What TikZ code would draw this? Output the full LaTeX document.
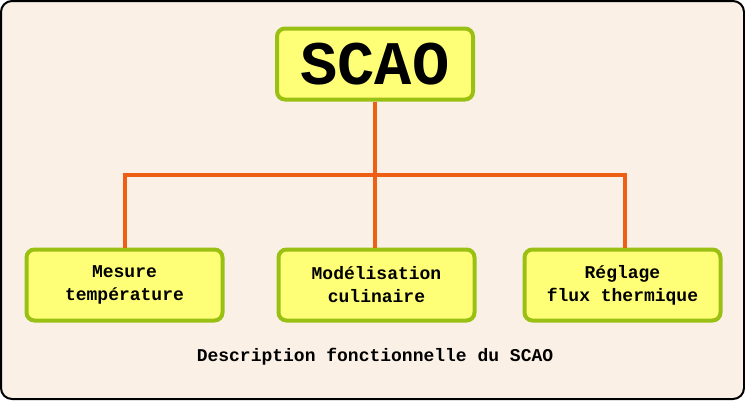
\documentclass[tikz,border=0pt]{standalone}
\usepackage{fontspec}
\setmonofont{Liberation Mono}
\definecolor{bgc}{HTML}{FAF0E6}
\definecolor{boxfill}{HTML}{FFFF77}
\definecolor{boxline}{HTML}{9AC014}
\definecolor{wire}{HTML}{EE5F14}
\begin{document}
\begin{tikzpicture}[x=1pt,y=-1pt,
  fbox/.style={draw=boxline, line width=4pt, fill=boxfill, rounded corners=8pt,
    minimum width=196pt, minimum height=71pt, align=center,
    font=\ttfamily\bfseries\fontsize{18}{23}\selectfont, inner sep=0pt},
  topbox/.style={fbox, font=\ttfamily\bfseries\fontsize{62}{62}\selectfont},
  wireline/.style={draw=wire, line width=4pt}]
\useasboundingbox (0,0) rectangle (745,400);
\draw[line width=2pt, fill=bgc, rounded corners=11pt] (1,1) rectangle (744,399);
\node[topbox] (top) at (375,64) {SCAO};
\node[fbox] (m1) at (124.5,285) {Mesure\\température};
\node[fbox] (m2) at (376.5,285) {Modélisation\\culinaire};
\node[fbox] (m3) at (622.5,285) {Réglage\\flux thermique};
\coordinate (j) at (375,175);
\draw[wireline] (top.south) -- (j);
\draw[wireline] (m1.north -| 125,0) -- (125,175) -- (625,175) -- (m3.north -| 625,0);
\draw[wireline] (j) -- (m2.north -| 375,0);
\node[font=\ttfamily\bfseries\fontsize{18}{20}\selectfont, anchor=base] (cap) at (375,361) {Description fonctionnelle du SCAO};
\end{tikzpicture}
\end{document}
